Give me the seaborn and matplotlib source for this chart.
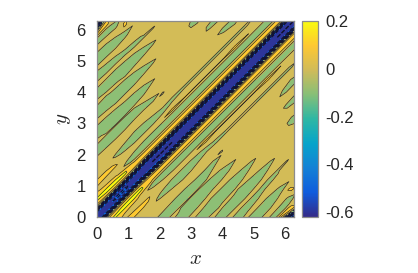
import numpy as np
import seaborn as sns
import matplotlib
matplotlib.use("Agg")
import matplotlib.pyplot as plt

# field is symmetric about y = x, so values are read along offsets d = y - x (in hundredths)
x_columns = [0, 0.3, 0.6, 0.9, 1.2, 1.5, 1.8, 2.1, 2.4, 2.8, 3.2, 3.6, 4.0, 4.4, 4.8, 5.3, 5.8, 6.4]
near_offsets = [0, 0.06, 0.12, 0.18, 0.24, 0.30, 0.36, 0.42, 0.48, 0.54, 0.60, 0.68, 0.76, 0.84, 0.92]
far_offsets = [1.03, 1.14, 1.26, 1.38, 1.5, 1.62, 1.74, 1.86, 1.98, 2.1, 2.22, 2.34, 2.46, 2.58, 2.7,
               2.82, 2.94, 3.06, 3.18, 3.3, 3.42, 3.54, 3.66, 3.78, 3.9, 4.02, 4.14, 4.26, 4.38, 4.5,
               4.62, 4.74, 4.86, 4.98, 5.1, 5.22, 5.34, 5.46, 5.58, 5.7, 5.82, 5.94, 6.06, 6.18, 6.3]

# values next to the diagonal
near_x00 = [-58, -57, -54, -47, -30, -10, 4, 12, 17, 21, 21, 15, 11, 9, 7]
near_x03 = [-58, -56, -53, -47, -28, -8, 6, 14, 20, 22, 21, 14, 9, 7, 5]
near_x06 = [-47, -52, -54, -44, -26, -7, 8, 17, 21, 23, 20, 12, 7, 3, 4]
near_x09 = [-47, -52, -54, -44, -26, -7, 8, 17, 21, 21, 16, 4, -1, 1, 3]
near_x12 = [-56, -56, -53, -47, -28, -8, 6, 13, 16, 13, 8, -3, -6, -4, 1]
near_mid = [-58, -58, -55, -51, -36, -21, 1, 12, 15, 13, 6, -3, -7, -6, -1]
near_dot = [-60.2, -58, -55, -51, -36, -21, 1, 12, 15, 13, 6, -3, -7, -6, -1]

# values further away, one list per x column, the last value carries on to the top edge
far_x00 = [13, 13, 6, 5, 5, 5, 5, 4, -2, -7, -5, 1, 2, -4, -7, -6, 1, 4, -2, -7, -6, -1, 5, -1, -7, -5, 1, 3, -2, -7,
           -2, 3, -1, -6, -7, -2, 4, 2, -4, -2, 14, -3, -31, -55, -58]
far_x03 = [12, 12, 6, 5, 5, 5, 5, 3, -3, -7, -6, 1, -2, -7, -7, -4, 2, 2, -4, -7, -6, -1, 2, -4, -7, -5, 1, 2, -4, -6,
           1, 4, -2, -7, -6, -1, 5, 1, -6, -2, 12, 13, -3]
far_x06 = [11, 9, 2, -2, 4, 5, 5, 2, -4, -7, -6, 1, -5, -7, -7, -2, 4, -1, -6, -7, -6, 1, 1, -7, -7, -6, 1, 2, -4, -2,
           3, 3, -3, -7, -3, 3, 5, -1, -4, 3]
far_x09 = [6, 5, -2, -6, 1, 5, 5, 2, -4, -7, -4, 1, -5, -7, -6, 1, 5, -1, -7, -7, -4, 2, -2, -7, -7, -4, 3, 1, -4, 2,
           5, 5, -1, -4, 3, 11, 11, 5]
far_x12 = [5, 2, -4, -7, -2, 4, 5, 4, -3, -7, -3, 2, -4, -7, -4, 2, 5, -1, -7, -7, -1, 5, -1, -7, -7, -1, 5, -1, -2, 4,
           5, 5, 3, 1, 5]
far_x15 = [6, 2, -4, -6, -1, 5, 5, 3, -2, -3, 2, 4, -2, -7, -1, 5, 5, 1, -5, -2, 4, 5, 1, -6, -2, 4, 5, -1, 1, 5]
far_x18 = [6, 2, -4, -4, 2, 5, 5, 2, -3, 2, 5, 5, 4, -1, 5, 5, 5, 3, -2, 4, 5, 5, 3, -2, 4, 5, 5, -1, 5]
far_x21 = [9, 3, -2, -1, 4, 5, 4, -1, 2, 5]
far_x24 = [14, 4, 1, -3, 4, 5]
far_x28 = [10.3, 5, 3, -2, 4] + [5] * 13 + [2.5, 5]
far_x32 = [10.3, 5, 3, -2, 4] + [5] * 12 + [-5, -5]
far_x36 = [10.3, 5, 3, -2, 4] + [5] * 7 + [-2, -2, 5]
far_x40 = [10.3, 5, 3, -2, 4, 5, 5, 1, -3, 3, 5, 3, -4, -2]
far_x44 = [14, 5, 3, -2, 4, 5, 2, -5, -3, 5]
far_x48 = [10.3, 5, 3, -2, 4, 5]
far_x53 = [6, 5]
far_x58 = [5]
far_x64 = [5]

near_table = [near_x00, near_x03, near_x06, near_x09, near_x12, near_mid, near_dot, near_dot, near_dot,
              near_mid, near_mid, near_mid, near_mid, near_mid, near_mid, near_mid, near_dot, near_dot]
far_table = [far_x00, far_x03, far_x06, far_x09, far_x12, far_x15, far_x18, far_x21, far_x24,
             far_x28, far_x32, far_x36, far_x40, far_x44, far_x48, far_x53, far_x58, far_x64]

x_ticks = [0, 1, 2, 3, 4, 5, 6]
bar_ticks = [-0.6, -0.4, -0.2, 0, 0.2]
bar_labels = ["-0.6", "-0.4", "-0.2", "0", "0.2"]
parula_colors = ["#352a87", "#0f5cdd", "#1481d6", "#06a4ca", "#2eb7a4", "#87bf77", "#d1bb59", "#fec832", "#f9fb0e"]

sns.set_theme(style="white")
plt.rcParams["font.family"] = ["Liberation Sans", "DejaVu Sans"]
plt.rcParams["mathtext.fontset"] = "cm"

parula = sns.blend_palette(parula_colors, n_colors=64, as_cmap=True)
vmin, vmax = -0.623, 0.203

offsets = np.array(near_offsets + far_offsets)
columns = []
for near, far in zip(near_table, far_table):
    col = near + far + [far[-1]] * (len(far_offsets) - len(far))
    columns.append(col)
z = np.array(columns).T / 100
x_grid, d_grid = np.meshgrid(x_columns, offsets)
y_grid = x_grid + d_grid

levels = np.arange(-7, 4) / 10
norm = plt.Normalize(vmin, vmax)
fill_colors = [parula(norm(v)) for v in levels[:-1]]
# the tightly packed lines of the band flanks read as navy in the reference
for i in [3, 4, 5]:
    fill_colors[i] = "#16265f"
band_levels = [v for v in levels if v < -0.05]
upper_levels = [v for v in levels if v > -0.05]

fig = plt.figure(figsize=(4.18, 2.73), dpi=100)
ax = fig.add_axes([96.7 / 418, 55.7 / 273, 197.3 / 418, 196.6 / 273])
cax = fig.add_axes([301.7 / 418, 55.7 / 273, 16.6 / 418, 196.6 / 273])

# upper left half, then the same values mirrored across y = x
for a, b in [(x_grid, y_grid), (y_grid, x_grid)]:
    ax.contourf(a, b, z, levels=levels, colors=fill_colors)
    ax.contour(a, b, z, levels=band_levels, colors="#12122e", linewidths=0.8)
    ax.contour(a, b, z, levels=upper_levels, colors="#2a2a2a", linewidths=0.5)

ax.set_xlim(0, 2 * np.pi)
ax.set_ylim(0, 2 * np.pi)
ax.set_xticks(x_ticks)
ax.set_yticks(x_ticks)
ax.set_xlabel(r"$x$", fontsize=15, labelpad=5, color="#262626")
ax.set_ylabel(r"$y$", fontsize=15, labelpad=2, color="#262626")
ax.tick_params(direction="in", length=2, width=0.5, labelsize=12, colors="#262626",
               top=True, right=True, bottom=True, left=True)
ax.tick_params(axis="x", pad=7)
ax.tick_params(axis="y", pad=8)

sm = plt.cm.ScalarMappable(norm=norm, cmap=parula)
bar = fig.colorbar(sm, cax=cax)
bar.set_ticks(bar_ticks)
bar.set_ticklabels(bar_labels)
cax.tick_params(direction="in", length=2, width=0.5, labelsize=12, pad=5, colors="#262626", right=True)

for a in [ax, cax]:
    for side in a.spines.values():
        side.set_color("#8c8c8c")
        side.set_linewidth(0.9)

fig.savefig("out.png", dpi=100)
